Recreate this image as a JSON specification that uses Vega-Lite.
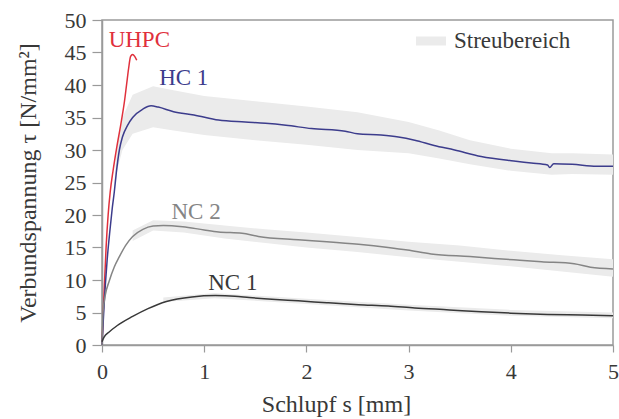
{
  "$schema": "https://vega.github.io/schema/vega-lite/v6.json",
  "width": 511,
  "height": 325,
  "autosize": {"type": "none"},
  "padding": {"left": 102, "top": 20, "right": 6, "bottom": 74},
  "background": "white",
  "config": {
    "font": "Liberation Serif",
    "view": {"stroke": "#9a9a9a", "strokeWidth": 1.5},
    "axis": {
      "grid": false,
      "domainColor": "#9a9a9a",
      "domainWidth": 1.5,
      "tickColor": "#9a9a9a",
      "tickWidth": 1.2,
      "labelFont": "Liberation Serif",
      "labelFontSize": 22,
      "labelColor": "#383838",
      "labelOverlap": false,
      "labelFlush": false,
      "titleFont": "Liberation Serif",
      "titleFontSize": 24,
      "titleFontWeight": "normal",
      "titleColor": "#383838"
    },
    "legend": {
      "labelFont": "Liberation Serif",
      "labelFontSize": 23,
      "labelColor": "#383838"
    }
  },
  "datasets": {
    "lines": [
      {"s": 0, "tau": 0, "series": "UHPC"},
      {"s": 0.02, "tau": 8, "series": "UHPC"},
      {"s": 0.04, "tau": 15, "series": "UHPC"},
      {"s": 0.06, "tau": 20, "series": "UHPC"},
      {"s": 0.08, "tau": 23.5, "series": "UHPC"},
      {"s": 0.11, "tau": 27, "series": "UHPC"},
      {"s": 0.14, "tau": 30, "series": "UHPC"},
      {"s": 0.19, "tau": 34.5, "series": "UHPC"},
      {"s": 0.22, "tau": 37.5, "series": "UHPC"},
      {"s": 0.24, "tau": 40, "series": "UHPC"},
      {"s": 0.26, "tau": 42.5, "series": "UHPC"},
      {"s": 0.28, "tau": 44.4, "series": "UHPC"},
      {"s": 0.3, "tau": 44.7, "series": "UHPC"},
      {"s": 0.32, "tau": 44.4, "series": "UHPC"},
      {"s": 0.34, "tau": 43.8, "series": "UHPC"},

      {"s": 0, "tau": 0, "series": "HC 1"},
      {"s": 0.02, "tau": 6, "series": "HC 1"},
      {"s": 0.05, "tau": 13, "series": "HC 1"},
      {"s": 0.08, "tau": 18, "series": "HC 1"},
      {"s": 0.1, "tau": 21, "series": "HC 1"},
      {"s": 0.12, "tau": 23.5, "series": "HC 1"},
      {"s": 0.14, "tau": 26.5, "series": "HC 1"},
      {"s": 0.17, "tau": 30, "series": "HC 1"},
      {"s": 0.2, "tau": 32, "series": "HC 1"},
      {"s": 0.25, "tau": 33.8, "series": "HC 1"},
      {"s": 0.3, "tau": 35, "series": "HC 1"},
      {"s": 0.4, "tau": 36.3, "series": "HC 1"},
      {"s": 0.48, "tau": 36.8, "series": "HC 1"},
      {"s": 0.55, "tau": 36.6, "series": "HC 1"},
      {"s": 0.7, "tau": 35.9, "series": "HC 1"},
      {"s": 0.9, "tau": 35.4, "series": "HC 1"},
      {"s": 1.14, "tau": 34.6, "series": "HC 1"},
      {"s": 1.4, "tau": 34.3, "series": "HC 1"},
      {"s": 1.6, "tau": 34.1, "series": "HC 1"},
      {"s": 1.8, "tau": 33.8, "series": "HC 1"},
      {"s": 2.05, "tau": 33.3, "series": "HC 1"},
      {"s": 2.38, "tau": 32.9, "series": "HC 1"},
      {"s": 2.5, "tau": 32.5, "series": "HC 1"},
      {"s": 2.73, "tau": 32.3, "series": "HC 1"},
      {"s": 2.9, "tau": 32.0, "series": "HC 1"},
      {"s": 3.06, "tau": 31.5, "series": "HC 1"},
      {"s": 3.25, "tau": 30.7, "series": "HC 1"},
      {"s": 3.45, "tau": 30.0, "series": "HC 1"},
      {"s": 3.71, "tau": 29.0, "series": "HC 1"},
      {"s": 4.03, "tau": 28.3, "series": "HC 1"},
      {"s": 4.2, "tau": 28.0, "series": "HC 1"},
      {"s": 4.36, "tau": 27.7, "series": "HC 1"},
      {"s": 4.38, "tau": 27.3, "series": "HC 1"},
      {"s": 4.42, "tau": 27.9, "series": "HC 1"},
      {"s": 4.6, "tau": 27.8, "series": "HC 1"},
      {"s": 4.84, "tau": 27.5, "series": "HC 1"},
      {"s": 5.0, "tau": 27.5, "series": "HC 1"},

      {"s": 0, "tau": 0, "series": "NC 2"},
      {"s": 0.01, "tau": 5, "series": "NC 2"},
      {"s": 0.03, "tau": 7.5, "series": "NC 2"},
      {"s": 0.07, "tau": 9.8, "series": "NC 2"},
      {"s": 0.12, "tau": 12, "series": "NC 2"},
      {"s": 0.17, "tau": 13.6, "series": "NC 2"},
      {"s": 0.23, "tau": 15.3, "series": "NC 2"},
      {"s": 0.3, "tau": 16.7, "series": "NC 2"},
      {"s": 0.4, "tau": 17.8, "series": "NC 2"},
      {"s": 0.5, "tau": 18.3, "series": "NC 2"},
      {"s": 0.6, "tau": 18.4, "series": "NC 2"},
      {"s": 0.79, "tau": 18.2, "series": "NC 2"},
      {"s": 1.0, "tau": 17.7, "series": "NC 2"},
      {"s": 1.14, "tau": 17.4, "series": "NC 2"},
      {"s": 1.37, "tau": 17.2, "series": "NC 2"},
      {"s": 1.53, "tau": 16.7, "series": "NC 2"},
      {"s": 1.92, "tau": 16.2, "series": "NC 2"},
      {"s": 2.2, "tau": 15.9, "series": "NC 2"},
      {"s": 2.51, "tau": 15.5, "series": "NC 2"},
      {"s": 2.8, "tau": 15.0, "series": "NC 2"},
      {"s": 2.99, "tau": 14.6, "series": "NC 2"},
      {"s": 3.22, "tau": 14.0, "series": "NC 2"},
      {"s": 3.6, "tau": 13.6, "series": "NC 2"},
      {"s": 4.03, "tau": 13.1, "series": "NC 2"},
      {"s": 4.3, "tau": 12.8, "series": "NC 2"},
      {"s": 4.62, "tau": 12.5, "series": "NC 2"},
      {"s": 4.78, "tau": 11.95, "series": "NC 2"},
      {"s": 5.0, "tau": 11.7, "series": "NC 2"},

      {"s": 0, "tau": 0.5, "series": "NC 1"},
      {"s": 0.02, "tau": 1.2, "series": "NC 1"},
      {"s": 0.07, "tau": 2.0, "series": "NC 1"},
      {"s": 0.15, "tau": 3.0, "series": "NC 1"},
      {"s": 0.3, "tau": 4.4, "series": "NC 1"},
      {"s": 0.45, "tau": 5.6, "series": "NC 1"},
      {"s": 0.63, "tau": 6.7, "series": "NC 1"},
      {"s": 0.88, "tau": 7.4, "series": "NC 1"},
      {"s": 1.11, "tau": 7.6, "series": "NC 1"},
      {"s": 1.3, "tau": 7.5, "series": "NC 1"},
      {"s": 1.44, "tau": 7.3, "series": "NC 1"},
      {"s": 1.7, "tau": 7.0, "series": "NC 1"},
      {"s": 1.92, "tau": 6.8, "series": "NC 1"},
      {"s": 2.2, "tau": 6.5, "series": "NC 1"},
      {"s": 2.51, "tau": 6.2, "series": "NC 1"},
      {"s": 2.8, "tau": 6.0, "series": "NC 1"},
      {"s": 3.06, "tau": 5.7, "series": "NC 1"},
      {"s": 3.4, "tau": 5.4, "series": "NC 1"},
      {"s": 3.71, "tau": 5.1, "series": "NC 1"},
      {"s": 4.0, "tau": 4.9, "series": "NC 1"},
      {"s": 4.36, "tau": 4.7, "series": "NC 1"},
      {"s": 4.7, "tau": 4.6, "series": "NC 1"},
      {"s": 5.0, "tau": 4.5, "series": "NC 1"}
    ],
    "bands": [
      {"s": 0.12, "lo": 23.5, "hi": 25, "series": "HC 1", "legend": "Streubereich"},
      {"s": 0.15, "lo": 27, "hi": 31, "series": "HC 1", "legend": "Streubereich"},
      {"s": 0.2, "lo": 30, "hi": 35, "series": "HC 1", "legend": "Streubereich"},
      {"s": 0.3, "lo": 32.5, "hi": 38.5, "series": "HC 1", "legend": "Streubereich"},
      {"s": 0.5, "lo": 33.5, "hi": 39.8, "series": "HC 1", "legend": "Streubereich"},
      {"s": 0.7, "lo": 33, "hi": 39.2, "series": "HC 1", "legend": "Streubereich"},
      {"s": 1.0, "lo": 32.3, "hi": 38.3, "series": "HC 1", "legend": "Streubereich"},
      {"s": 1.5, "lo": 31.5, "hi": 37.5, "series": "HC 1", "legend": "Streubereich"},
      {"s": 2.0, "lo": 30.8, "hi": 36.7, "series": "HC 1", "legend": "Streubereich"},
      {"s": 2.5, "lo": 30, "hi": 35.8, "series": "HC 1", "legend": "Streubereich"},
      {"s": 3.0, "lo": 29.5, "hi": 34.3, "series": "HC 1", "legend": "Streubereich"},
      {"s": 3.3, "lo": 28.7, "hi": 33, "series": "HC 1", "legend": "Streubereich"},
      {"s": 3.6, "lo": 27.8, "hi": 31.5, "series": "HC 1", "legend": "Streubereich"},
      {"s": 4.0, "lo": 26.8, "hi": 30.2, "series": "HC 1", "legend": "Streubereich"},
      {"s": 4.4, "lo": 26.2, "hi": 29.5, "series": "HC 1", "legend": "Streubereich"},
      {"s": 4.6, "lo": 26.3, "hi": 29.5, "series": "HC 1", "legend": "Streubereich"},
      {"s": 5.0, "lo": 26.2, "hi": 29.3, "series": "HC 1", "legend": "Streubereich"},

      {"s": 0.3, "lo": 16, "hi": 17.6, "series": "NC 2", "legend": "Streubereich"},
      {"s": 0.5, "lo": 17.6, "hi": 19.2, "series": "NC 2", "legend": "Streubereich"},
      {"s": 0.8, "lo": 17.3, "hi": 19.0, "series": "NC 2", "legend": "Streubereich"},
      {"s": 1.2, "lo": 16.4, "hi": 18.4, "series": "NC 2", "legend": "Streubereich"},
      {"s": 1.6, "lo": 15.7, "hi": 17.8, "series": "NC 2", "legend": "Streubereich"},
      {"s": 2.0, "lo": 15.0, "hi": 17.3, "series": "NC 2", "legend": "Streubereich"},
      {"s": 2.5, "lo": 14.3, "hi": 16.6, "series": "NC 2", "legend": "Streubereich"},
      {"s": 3.0, "lo": 13.5, "hi": 15.9, "series": "NC 2", "legend": "Streubereich"},
      {"s": 3.5, "lo": 12.8, "hi": 15.3, "series": "NC 2", "legend": "Streubereich"},
      {"s": 4.0, "lo": 12.1, "hi": 14.5, "series": "NC 2", "legend": "Streubereich"},
      {"s": 4.5, "lo": 11.3, "hi": 13.8, "series": "NC 2", "legend": "Streubereich"},
      {"s": 5.0, "lo": 10.5, "hi": 13.2, "series": "NC 2", "legend": "Streubereich"},

      {"s": 0.6, "lo": 6.6, "hi": 7.3, "series": "NC 1", "legend": "Streubereich"},
      {"s": 1.1, "lo": 7.2, "hi": 8.0, "series": "NC 1", "legend": "Streubereich"},
      {"s": 2.0, "lo": 6.3, "hi": 7.1, "series": "NC 1", "legend": "Streubereich"},
      {"s": 3.0, "lo": 5.3, "hi": 6.2, "series": "NC 1", "legend": "Streubereich"},
      {"s": 4.0, "lo": 4.5, "hi": 5.4, "series": "NC 1", "legend": "Streubereich"},
      {"s": 5.0, "lo": 4.1, "hi": 5.0, "series": "NC 1", "legend": "Streubereich"}
    ],
    "labels": [
      {"s": 0.365, "tau": 46.9, "series": "UHPC"},
      {"s": 0.8, "tau": 41.1, "series": "HC 1"},
      {"s": 0.92, "tau": 20.5, "series": "NC 2"},
      {"s": 1.28, "tau": 9.5, "series": "NC 1"}
    ]
  },
  "encoding": {
    "x": {"field": "s", "type": "quantitative", "scale": {"domain": [0, 5], "nice": false},
      "axis": {"values": [0, 1, 2, 3, 4, 5], "format": "d", "tickSize": 7, "labelPadding": 9, "title": "Schlupf s [mm]", "titlePadding": 10, "titleX": 234, "titleAlign": "center"}},
    "y": {"field": "tau", "type": "quantitative", "scale": {"domain": [0, 50], "nice": false},
      "axis": {"values": [0, 5, 10, 15, 20, 25, 30, 35, 40, 45, 50], "format": "d", "tickSize": 10, "labelPadding": 6, "title": "Verbundspannung τ [N/mm²]", "titlePadding": 24}}
  },
  "layer": [
    {
      "data": {"name": "bands"},
      "mark": {"type": "area", "opacity": 1},
      "encoding": {
        "y": {"field": "lo", "type": "quantitative", "scale": {"domain": [0, 50], "nice": false},
          "axis": {"values": [0, 5, 10, 15, 20, 25, 30, 35, 40, 45, 50], "format": "d", "tickSize": 10, "labelPadding": 6, "title": "Verbundspannung τ [N/mm²]", "titlePadding": 24}},
        "y2": {"field": "hi"},
        "detail": {"field": "series"},
        "fill": {"field": "legend", "type": "nominal", "scale": {"range": ["#ebebeb"]},
          "legend": {"title": null, "orient": "none", "legendX": 314, "legendY": 6, "symbolType": "M-1,-0.3H1V0.3H-1Z", "symbolSize": 900, "symbolStrokeWidth": 0, "labelOffset": 8}}
      }
    },
    {
      "data": {"name": "lines"},
      "mark": {"type": "line", "strokeWidth": 1.5, "interpolate": "monotone"},
      "encoding": {
        "color": {"field": "series", "type": "nominal",
          "scale": {"domain": ["UHPC", "HC 1", "NC 2", "NC 1"], "range": ["#e0303c", "#3c3c8c", "#858585", "#383838"]},
          "legend": null}
      }
    },
    {
      "data": {"name": "labels"},
      "mark": {"type": "text", "font": "Liberation Serif", "fontSize": 23, "align": "center", "baseline": "middle"},
      "encoding": {
        "text": {"field": "series"},
        "color": {"field": "series", "type": "nominal", "legend": null}
      }
    }
  ]
}
